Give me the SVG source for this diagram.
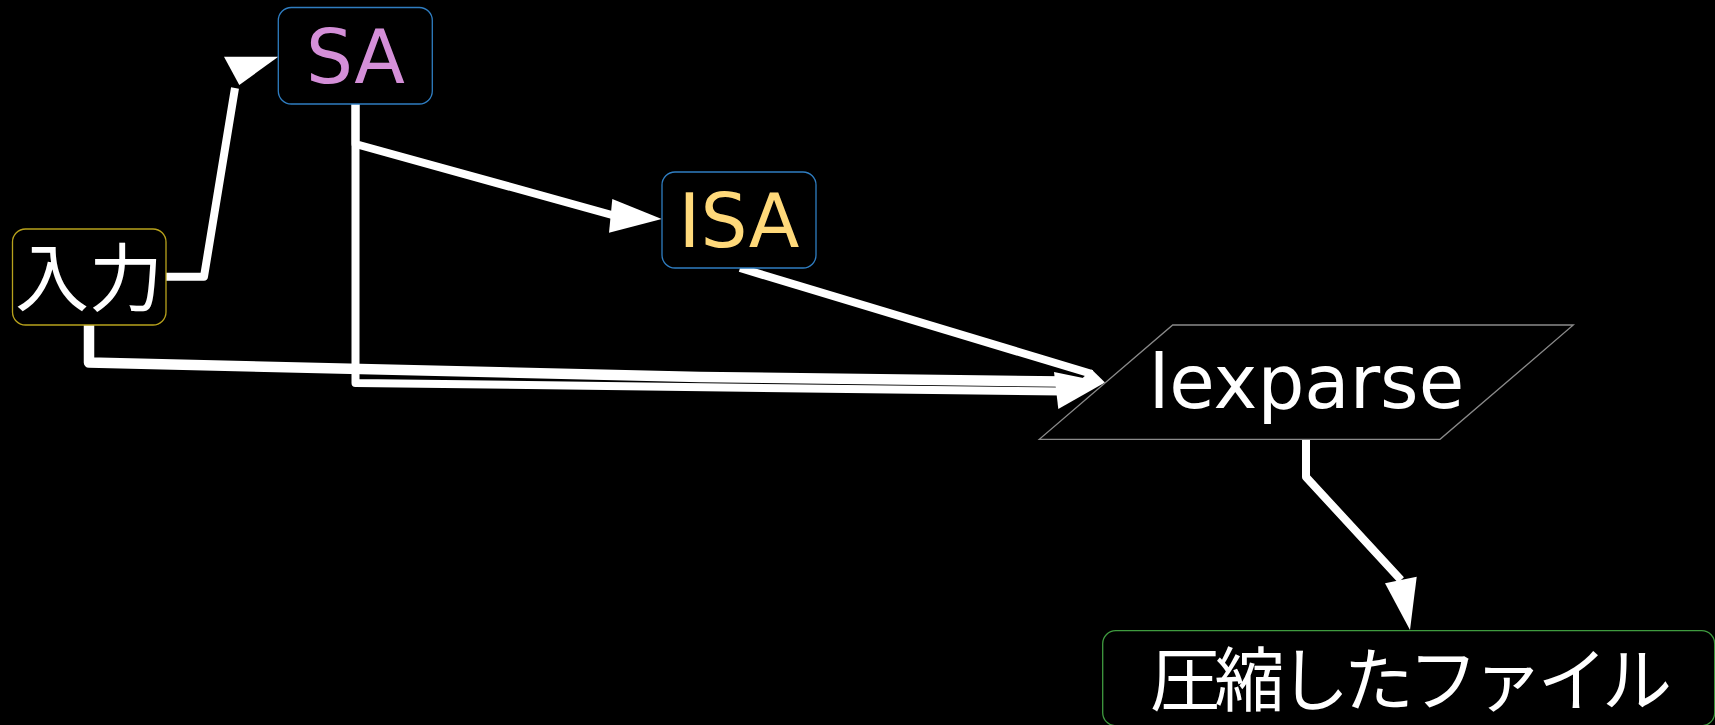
<svg xmlns="http://www.w3.org/2000/svg" width="1715" height="725" viewBox="0 0 1715 725">
<style>
.bg{fill:#000}
.box{fill:#000;stroke-width:1.3}
.lbl{font-family:"DejaVu Sans","Noto Sans CJK JP",sans-serif;font-size:74px;text-anchor:middle;fill:#fff}
.edge{fill:none;stroke:#fff;stroke-width:8;stroke-linejoin:round}
.head{fill:#fff;stroke:none}
</style>
<rect class="bg" x="0" y="0" width="1715" height="725"/>
<g id="connectors">
  <path class="edge" d="M166,276.7 H204 L235,88"/>
  <polygon class="head" points="278.3,56.7 224,56.7 239.3,85"/>
  <path class="edge" d="M355.5,104 V144 L612,215"/>
  <polygon class="head" points="661.7,219 612.3,199 609,232.7"/>
  <path class="edge" d="M355.5,104 V383 L1062,391.5"/>
  <path class="edge" style="stroke-width:10.5" d="M89,325 V362.5 L700,377 L1062,381.5"/>
  <path class="edge" d="M740,268 L1092,374"/>
  <polygon class="head" points="1105,382.5 1058.3,409 1054,372"/>
  <polygon class="head" points="1105,382.5 1091.7,369.5 1072,388"/>
  <path class="edge" d="M1306,439.5 V477 L1401,580"/>
  <polygon class="head" points="1410,630 1385,583.3 1416.7,576.7"/>
</g>
<g id="node-input">
  <rect class="box" x="12.5" y="229" width="153.5" height="96" rx="13" style="stroke:#b8a21c"/>
  <text class="lbl" x="89" y="305">入力</text>
</g>
<g id="node-sa">
  <rect class="box" x="278.3" y="7.5" width="154" height="96.5" rx="13" style="stroke:#2f7dc1"/>
  <text class="lbl" x="355.5" y="82.7" style="fill:#d48fd8">SA</text>
</g>
<g id="node-isa">
  <rect class="box" x="662" y="172" width="154" height="96" rx="13" style="stroke:#2f7dc1"/>
  <text class="lbl" x="739" y="246.5" style="fill:#ffd97a">ISA</text>
</g>
<g id="node-lexparse">
  <polygon class="box" points="1172.7,325 1573.3,325 1440,439.3 1039.3,439.3" style="stroke:#8a8a8a"/>
  <text class="lbl" x="1306.5" y="408.3">lexparse</text>
</g>
<g id="node-output">
  <rect class="box" x="1102.7" y="630.7" width="612" height="95" rx="13" style="stroke:#3f9a3f"/>
  <text class="lbl" x="1411" y="706" style="font-size:70px" textLength="522" lengthAdjust="spacing">圧縮したファイル</text>
</g>
</svg>
